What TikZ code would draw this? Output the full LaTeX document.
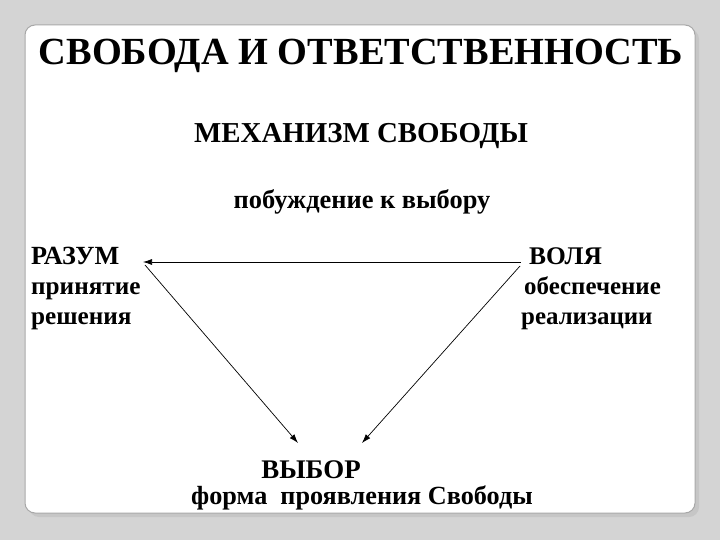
\documentclass[tikz,border=0pt]{standalone}
\usepackage{fontspec}
\setmainfont{Liberation Serif}
\usetikzlibrary{arrows.meta}
\definecolor{fond}{HTML}{D4D4D4}
\definecolor{bord}{HTML}{A8A8A8}
\begin{document}
\begin{tikzpicture}[x=1bp,y=-1bp,
		txt/.style={inner sep=0pt,anchor=base west,font=\bfseries\fontsize{#1}{#1}\selectfont},
		fl/.style={-{Latex[length=9bp,width=6bp]},line width=.7bp}]
		\useasboundingbox (0,0) rectangle (720,540);
		\fill[fond] (0,0) rectangle (720,540);
		\fill[gray!45,rounded corners=10bp] (29,29) rectangle (699,517);%ombre
		\draw[bord,fill=white,rounded corners=10bp,line width=1bp] (25,25) rectangle (695,513);
		
		\node[txt=38.5,anchor=base] (titre) at (361,65) {СВОБОДА И ОТВЕТСТВЕННОСТЬ};
		\node[txt=29,anchor=base] (meca) at (361,143) {МЕХАНИЗМ СВОБОДЫ};
		\node[txt=26.5,anchor=base] (impuls) at (362,209) {побуждение к выбору};
		
		\node[txt=26.3] (razum) at (31,265) {РАЗУМ};
		\node[txt=25.3] (razum2) at (31,294) {принятие};
		\node[txt=25.3] (razum3) at (31,324) {решения};
		
		\node[txt=25.5] (volia) at (529,265) {ВОЛЯ};
		\node[txt=25] (volia2) at (524,294) {обеспечение};
		\node[txt=25] (volia3) at (521,324) {реализации};
		
		\node[txt=27,anchor=base] (vybor) at (311,478) {ВЫБОР};
		\node[txt=26.3,anchor=base] (vybor2) at (362,504) {форма\ \ проявления Свободы};
		
		\coordinate (rz) at (143,262);
		\coordinate (vl) at (521,262);
		\coordinate (vb1) at (298,443);
		\coordinate (vb2) at (362,443);
		\draw[fl,{Latex[length=9bp,width=6bp]}-] (rz) -- (vl);
		\draw[fl] ([shift={(2,3)}]rz) -- (vb1);
		\draw[fl] ([shift={(-1,4)}]vl) -- (vb2);
		
	\end{tikzpicture}
\end{document}
